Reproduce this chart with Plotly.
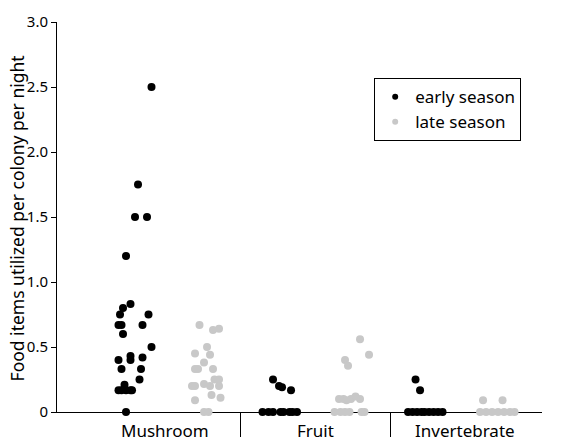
import plotly.graph_objects as go

categories = ["Mushroom", "Fruit", "Invertebrate"]
series_names = ["early season", "late season"]
y_title = "Food items utilized per colony per night"

# Early season: values and horizontal jitter offsets (category units)
mush_early_y = [2.5, 1.75, 1.5, 1.5, 1.2, 0.83, 0.8, 0.75, 0.75, 0.67, 0.67, 0.67, 0.6, 0.5,
                0.43, 0.4, 0.42, 0.4, 0.33, 0.33, 0.25, 0.21, 0.167, 0.167, 0.167, 0.167, 0.167, 0]
mush_early_dx = [-0.09, -0.18, -0.20, -0.12, -0.26, -0.23, -0.28, -0.30, -0.11, -0.31, -0.29, -0.15, -0.28, -0.09,
                 -0.23, -0.23, -0.15, -0.31, -0.29, -0.16, -0.17, -0.27, -0.31, -0.29, -0.26, -0.23, -0.22, -0.26]
fruit_early_y = [0.25, 0.2, 0.19, 0.167, 0, 0, 0, 0, 0, 0, 0, 0]
fruit_early_dx = [-0.28, -0.24, -0.22, -0.16, -0.35, -0.31, -0.28, -0.23, -0.21, -0.17, -0.15, -0.12]
inv_early_y = [0.25, 0.167, 0, 0, 0, 0, 0, 0, 0, 0, 0]
inv_early_dx = [-0.33, -0.30, -0.38, -0.35, -0.32, -0.29, -0.27, -0.24, -0.21, -0.18, -0.15]

# Late season
mush_late_y = [0.67, 0.63, 0.64, 0.5, 0.45, 0.44, 0.38, 0.33, 0.33, 0.33, 0.25, 0.25, 0.2, 0.2,
               0.215, 0.2, 0.2, 0.13, 0.11, 0.09, 0, 0]
mush_late_dx = [0.23, 0.32, 0.36, 0.28, 0.20, 0.30, 0.26, 0.20, 0.22, 0.32, 0.33, 0.36, 0.18, 0.20,
                0.26, 0.30, 0.36, 0.31, 0.37, 0.20, 0.26, 0.29]
fruit_late_y = [0.56, 0.44, 0.40, 0.355, 0.10, 0.10, 0.09, 0.10, 0.12, 0.10, 0, 0, 0, 0, 0, 0]
fruit_late_dx = [0.30, 0.36, 0.20, 0.22, 0.16, 0.19, 0.21, 0.24, 0.27, 0.30, 0.13, 0.17, 0.20, 0.23, 0.31, 0.33]
inv_late_y = [0.09, 0.09, 0, 0, 0, 0, 0, 0, 0]
inv_late_dx = [0.12, 0.25, 0.10, 0.14, 0.18, 0.22, 0.26, 0.30, 0.33]

y_tickvals = [0, 0.5, 1.0, 1.5, 2.0, 2.5, 3.0]
y_ticktext = ["0", "0.5", "1.0", "1.5", "2.0", "2.5", "3.0"]

early = [(mush_early_y, mush_early_dx), (fruit_early_y, fruit_early_dx), (inv_early_y, inv_early_dx)]
late = [(mush_late_y, mush_late_dx), (fruit_late_y, fruit_late_dx), (inv_late_y, inv_late_dx)]

def build(groups):
    xs, ys = [], []
    for i, (yv, dx) in enumerate(groups):
        xs += [i + 1 + d for d in dx]
        ys += yv
    return xs, ys

FONT = "Noto Sans"
fig = go.Figure()
for name, groups, color in [(series_names[0], early, "#000000"), (series_names[1], late, "#c8c8c8")]:
    xs, ys = build(groups)
    fig.add_trace(go.Scatter(x=xs, y=ys, mode="markers", name=name, cliponaxis=False, showlegend=False,
                             marker=dict(size=8, color=color, line=dict(width=0))))
    # legend entry with the smaller legend dot
    fig.add_trace(go.Scatter(x=[None], y=[None], mode="markers", name=name,
                             marker=dict(size=6, color=color, line=dict(width=0))))

for i, c in enumerate(categories):
    fig.add_annotation(x=i + 1, y=0, xref="x", yref="paper", text=c, showarrow=False,
                       yanchor="top", yshift=-5, font=dict(size=17, color="black", family=FONT))

fig.add_annotation(x=-0.0835, y=0.495, xref="paper", yref="paper", text=y_title, textangle=-90,
                   showarrow=False, xanchor="center", yanchor="middle", borderpad=0,
                   font=dict(size=17.5, color="black", family=FONT))

fig.update_layout(
    width=566, height=441, margin=dict(l=57, r=24, t=22, b=29, autoexpand=False),
    plot_bgcolor="white", paper_bgcolor="white",
    font=dict(family=FONT, size=15, color="black"),
    showlegend=True,
    legend=dict(x=0.654, y=0.856, xanchor="left", yanchor="top", bordercolor="black", borderwidth=1,
                font=dict(size=17, family=FONT), bgcolor="white", itemwidth=30),
    xaxis=dict(range=[0.28, 3.513], showgrid=False, zeroline=False, showline=True, linecolor="black",
               linewidth=1, tickvals=[1.5, 2.5], ticks="outside", ticklen=24, tickcolor="black",
               showticklabels=False, layer="below traces", automargin=False),
    yaxis=dict(range=[0, 3], showgrid=False, zeroline=False, showline=True, linecolor="black",
               linewidth=1, tickvals=y_tickvals, ticktext=y_ticktext, ticks="outside", ticklen=5,
               tickcolor="black", tickfont=dict(size=15), layer="below traces", automargin=False),
)
fig.write_html("out.html", config={"displayModeBar": False},
               post_script="document.body.style.margin='0';document.body.style.overflow='hidden';")
